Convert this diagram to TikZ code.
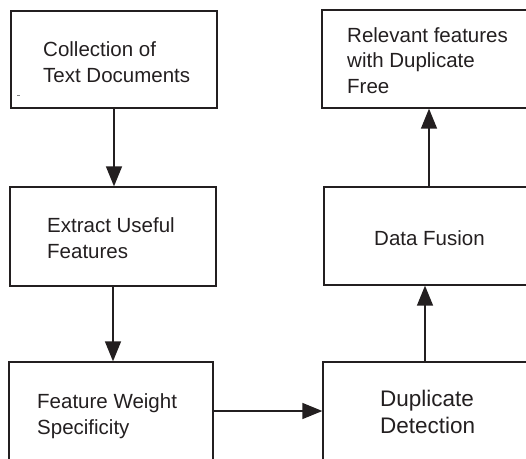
\documentclass[tikz,border=0pt]{standalone}
\usepackage{fontspec}
\setmainfont{Liberation Sans}
\usetikzlibrary{arrows.meta}
\definecolor{ink}{HTML}{231F20}
\tikzset{
  box/.style={draw=ink, line width=1.3pt, rectangle, inner sep=0pt},
  lbl/.style={anchor=base west, inner sep=0pt, align=left, text=ink,
              font=\fontsize{20.5}{25.5}\selectfont},
  biglbl/.style={lbl, font=\fontsize{22.5}{27}\selectfont},
  arr/.style={draw=ink, line width=1.4pt, -{Triangle[length=20pt,width=16pt]}}
}
\begin{document}
\begin{tikzpicture}[x=1pt,y=-1pt]
\useasboundingbox (0,0) rectangle (526,458);
\clip (0,0) rectangle (526,458);
% boxes
\node[box, minimum width=206pt, minimum height=97pt]  (b1) at (114,59.5) {};
\node[box, minimum width=206pt, minimum height=99pt]  (b2) at (113,236.5) {};
\node[box, minimum width=204pt, minimum height=98pt]  (b3) at (111,411) {};
\node[box, minimum width=204pt, minimum height=98pt]  (b4) at (425,411) {};
\node[box, minimum width=210pt, minimum height=98pt]  (b5) at (429,236) {};
\node[box, minimum width=214pt, minimum height=98pt]  (b6) at (429,59) {};
% labels (anchored at the baseline of the last line)
\node[lbl] (t1) at (43,82) {Collection of\\Text Documents};
\node[lbl] (t2) at (47,258) {Extract Useful\\Features};
\node[lbl] (t3) at (37,434) {Feature Weight\\Specificity};
\node[biglbl] (t4) at (380,433) {Duplicate\\Detection};
\node[lbl] (t5) at (374,245) {Data Fusion};
\node[lbl] (t6) at (347,93) {Relevant features\\with Duplicate\\Free};
% stray mark
\draw[gray, line width=0.8pt] (17,95) -- (20,95);
% connectors
\draw[arr] (b1.south) -- (b1.south |- b2.north);
\draw[arr] (b2.south) -- (b2.south |- b3.north);
\draw[arr] (b3.east) -- (b4.west);
\draw[arr] (b4.north) -- (b4.north |- b5.south);
\draw[arr] (b5.north) -- (b5.north |- b6.south);
\end{tikzpicture}
\end{document}
